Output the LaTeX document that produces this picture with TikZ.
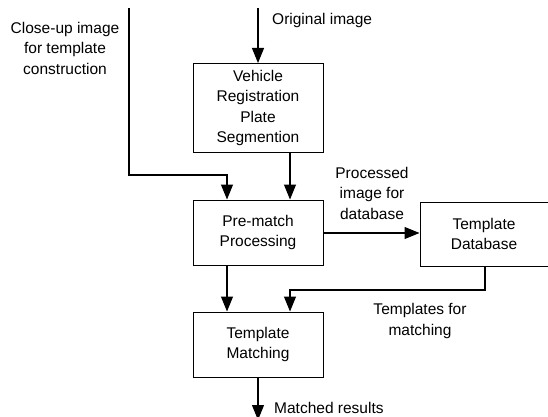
\documentclass[tikz,border=0pt]{standalone}
\usepackage{fontspec}
\setmainfont{Liberation Sans}
\usetikzlibrary{arrows.meta}
\begin{document}
\begin{tikzpicture}[x=1pt,y=-1pt,
  box/.style={draw,line width=1pt,minimum width=130pt,align=center,inner sep=0pt,
    font=\fontsize{15.5}{20.5}\selectfont},
  lbl/.style={align=center,inner sep=0pt,font=\fontsize{15.5}{20.5}\selectfont},
  conn/.style={line width=1.1pt,-{Triangle[width=12pt,length=15pt]}},
  plain/.style={line width=1.1pt}]
\useasboundingbox (0,0) rectangle (548,417);
\clip (0,0) rectangle (548,417);
\node[box,minimum height=89pt] (veh) at (258,108) {Vehicle\\Registration\\Plate\\Segmention};
\node[box,minimum height=65pt] (pre) at (258,232.5) {Pre-match\\Processing};
\node[box,minimum height=64pt,minimum width=140pt,text width=130pt] (db) at (490,234) {\hspace*{-12pt}Template\\\hspace*{-12pt}Database};
\node[box,minimum height=65pt] (tm) at (258,344.5) {Template\\Matching};
\coordinate (origtop) at (258,8);
\coordinate (closetop) at (129,8);
\coordinate (closebend) at (129,175);
\coordinate (dbbend) at (485,290);
\coordinate (outend) at (258,420);
\draw[conn] (origtop) -- (veh.north);
\draw[conn] (closetop) -- (closebend) -| ([xshift=-31pt]pre.north);
\draw[conn] ([xshift=32pt]veh.south) -- ([xshift=32pt]pre.north);
\draw[conn] (pre.east |- 0,233) -- (db.west |- 0,233);
\draw[conn] ([xshift=-31pt]pre.south) -- ([xshift=-31pt]tm.north);
\draw[conn] (db.south -| dbbend) -- (dbbend) -| ([xshift=32pt]tm.north);
\draw[conn] (tm.south) -- (outend);
\node[lbl,anchor=west] (origlbl) at (272,20) {Original image};
\node[lbl] (closelbl) at (65,48) {Close-up image\\for template\\construction};
\node[lbl] (proclbl) at (372,193) {Processed\\image for\\database};
\node[lbl] (templbl) at (420,321) {Templates for\\matching};
\node[lbl,anchor=west] (matchlbl) at (274,408) {Matched results};
\end{tikzpicture}
\end{document}
